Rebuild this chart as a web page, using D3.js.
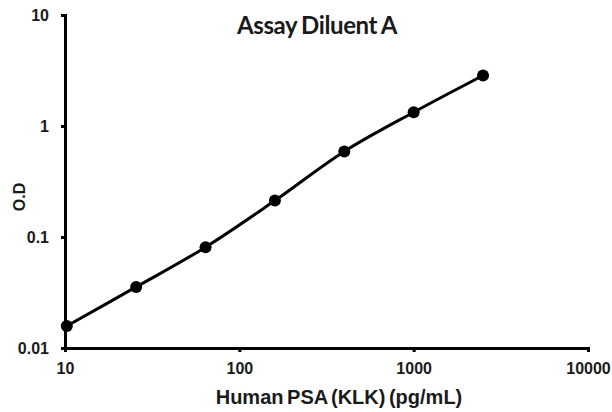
<!DOCTYPE html>
<html>
<head>
<meta charset="utf-8">
<script src="https://cdn.jsdelivr.net/npm/d3@7"></script>
<style>
  body { margin: 0; background: #fff; }
</style>
</head>
<body>
<div id="chart"></div>
<script>
const concentrations = [10.24, 25.6, 64, 160, 400, 1000, 2500];
const odValues = [0.0158, 0.0355, 0.081, 0.213, 0.59, 1.33, 2.85];
const xTicks = [10, 100, 1000, 10000];
const yTicks = [0.01, 0.1, 1, 10];

const MARGIN = {TOP: 15, BOTTOM: 64, LEFT: 65, RIGHT: 24};
const W = 612, H = 412;
const WIDTH = W - MARGIN.LEFT - MARGIN.RIGHT;
const HEIGHT = H - MARGIN.TOP - MARGIN.BOTTOM;
const ARIAL = '"Liberation Sans", Arial, sans-serif';

const svg = d3.select('#chart').append('svg')
    .attr('width', W).attr('height', H);
const g = svg.append('g')
    .attr('transform', `translate(${MARGIN.LEFT}, ${MARGIN.TOP})`);

const x = d3.scaleLog().domain([10, 10000]).range([0, WIDTH]);
const y = d3.scaleLog().domain([0.01, 10]).range([HEIGHT, 0]);

const xAxis = g.append('g')
    .attr('transform', `translate(0, ${HEIGHT})`)
    .call(d3.axisBottom(x).tickValues(xTicks).tickFormat(d3.format('d')).tickSizeOuter(0).tickSize(4).tickPadding(11));
const yAxis = g.append('g')
    .call(d3.axisLeft(y).tickValues(yTicks).tickFormat(d => String(d)).tickSizeOuter(0).tickSize(4).tickPadding(12));

[xAxis, yAxis].forEach(a => {
    a.attr('font-family', null).attr('font-size', null);
    a.select('.domain').attr('stroke', '#000').attr('stroke-width', 3);
    a.selectAll('.tick line').attr('stroke', '#000').attr('stroke-width', 3);
    a.selectAll('.tick text')
        .style('font-family', ARIAL)
        .style('font-weight', 'bold')
        .style('font-size', '16px')
        .attr('fill', '#1a1a1a');
});
yAxis.selectAll('.tick text').attr('dy', '0.35em');

const data = concentrations.map((c, i) => ({c, od: odValues[i]}));

g.append('path')
    .datum(data)
    .attr('fill', 'none')
    .attr('stroke', '#000')
    .attr('stroke-width', 3)
    .attr('d', d3.line().x(d => x(d.c)).y(d => y(d.od)).curve(d3.curveCatmullRom));

g.selectAll('circle')
    .data(data)
    .enter().append('circle')
    .attr('cx', d => x(d.c))
    .attr('cy', d => y(d.od))
    .attr('r', 6)
    .attr('fill', '#000');

svg.append('text')
    .attr('x', 317).attr('y', 34)
    .attr('text-anchor', 'middle')
    .style('font-family', 'Lato, "Open Sans", sans-serif')
    .style('font-weight', 'bold')
    .style('font-size', '24px')
    .style('letter-spacing', '-0.4px')
    .style('word-spacing', '-1px')
    .attr('fill', '#1a1a1a')
    .text('Assay Diluent A');

svg.append('text')
    .attr('x', 339).attr('y', 404)
    .attr('text-anchor', 'middle')
    .style('font-family', ARIAL)
    .style('font-weight', 'bold')
    .style('font-size', '20px')
    .style('word-spacing', '-2px')
    .attr('fill', '#1a1a1a')
    .text('Human PSA (KLK) (pg/mL)');

svg.append('text')
    .attr('transform', 'translate(25, 197) rotate(-90)')
    .attr('text-anchor', 'middle')
    .style('font-family', ARIAL)
    .style('font-weight', 'bold')
    .style('font-size', '16px')
    .attr('fill', '#1a1a1a')
    .text('O.D');
</script>
</body>
</html>
